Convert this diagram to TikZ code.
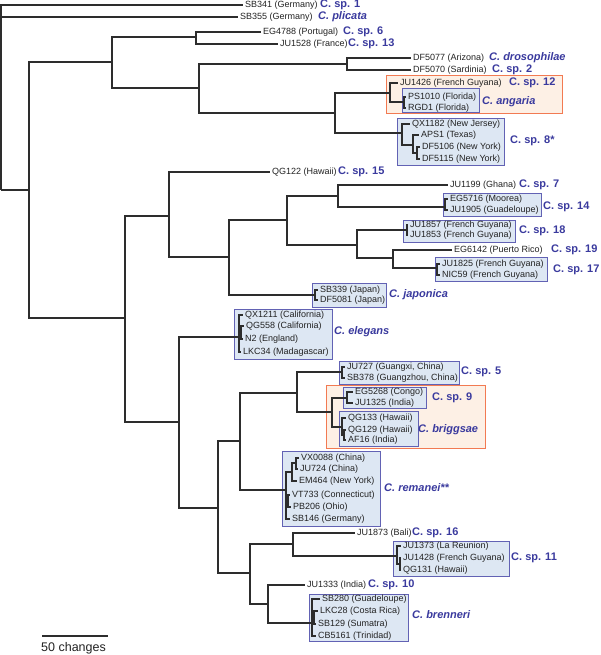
\documentclass[tikz,border=0pt]{standalone}
\usepackage{fontspec}
\setmainfont{Liberation Sans}
\usepackage{xcolor}
\usepackage{tikz}
\usetikzlibrary{positioning,fit}
\definecolor{branch}{RGB}{45,45,45}
\definecolor{tiptext}{RGB}{35,35,35}
\definecolor{spblue}{RGB}{58,58,158}
\definecolor{grpline}{RGB}{98,98,180}
\definecolor{grpfill}{RGB}{221,231,243}
\definecolor{sgline}{RGB}{242,122,82}
\definecolor{sgfill}{RGB}{253,240,229}

\begin{document}
\begin{tikzpicture}[x=1pt, y=-1pt,
  br/.style={draw=branch, line width=1.3pt},
  leaf/.style={anchor=west, inner sep=2pt, font=\fontsize{9}{10}\selectfont, text=tiptext},
  sp/.style={anchor=west, inner sep=0pt, font=\fontsize{11}{13}\selectfont\bfseries, text=spblue},
  spi/.style={sp, font=\fontsize{11}{13}\selectfont\bfseries\itshape},
  grp/.style={draw=grpline, fill=grpfill, line width=1pt, inner sep=0pt},
  sgrp/.style={draw=sgline, fill=sgfill, line width=1pt, inner sep=0pt},
  scl/.style={font=\fontsize{12.5}{14}\selectfont, text=tiptext, inner sep=0pt}]

\path[use as bounding box, fill=white] (0,0) rectangle (600,655);

\node[sgrp, fit={(386,76) (562,114)}] (angO) {};
\node[grp, fit={(402,89) (479,113)}] (angB) {};
\node[grp, fit={(397,119) (504,166)}] (sp8B) {};
\node[grp, fit={(443,193) (541,216)}] (sp14B) {};
\node[grp, fit={(403,220) (515,242)}] (sp18B) {};
\node[grp, fit={(435,257) (547,281)}] (sp17B) {};
\node[grp, fit={(312,283) (386,307)}] (japB) {};
\node[grp, fit={(234,309) (332,359)}] (elegB) {};
\node[grp, fit={(339,361) (459,384)}] (sp5B) {};
\node[sgrp, fit={(326,385) (485,448)}] (brigO) {};
\node[grp, fit={(343,387) (426,408)}] (sp9B) {};
\node[grp, fit={(339,411) (418,446)}] (brigB) {};
\node[grp, fit={(282,451) (380,526)}] (remB) {};
\node[grp, fit={(393,541) (509,576)}] (sp11B) {};
\node[grp, fit={(309,594) (408,641)}] (brenB) {};

\coordinate (r) at (1,190);
\coordinate (nA) at (29,190);
\coordinate (nA1) at (112,62);
\coordinate (nA1a) at (196,37);
\coordinate (nA1b) at (199,88);
\coordinate (ndro) at (347,64);
\coordinate (nA2) at (335,113);
\coordinate (nang) at (390,93);
\coordinate (nangc) at (404,102);
\coordinate (nsp8) at (402,133);
\coordinate (nsp8b) at (413,145);
\coordinate (nsp8c) at (417,153);
\coordinate (nB) at (125,318);
\coordinate (nB1) at (169,216);
\coordinate (nB2) at (229,257);
\coordinate (nB3) at (287,220);
\coordinate (nsp7) at (338,196);
\coordinate (nsp14) at (445,207);
\coordinate (nB4) at (357,245);
\coordinate (nsp18) at (407,230);
\coordinate (nB5) at (393,258);
\coordinate (nsp17) at (437,268);
\coordinate (njap) at (315,295);
\coordinate (nC) at (179,422);
\coordinate (neleg) at (239,337);
\coordinate (neleg2) at (241,332);
\coordinate (nD) at (218,508);
\coordinate (nD1) at (240,441);
\coordinate (nD2) at (297,393);
\coordinate (nsp5) at (342,372);
\coordinate (nbrig) at (332,412);
\coordinate (nsp9) at (347,398);
\coordinate (ncb) at (342,427);
\coordinate (ncb2) at (344,435);
\coordinate (nrem) at (286,490);
\coordinate (nrem1) at (292,472);
\coordinate (nrem2) at (296,463);
\coordinate (nrem3) at (288,501);
\coordinate (nE) at (250,573);
\coordinate (nE1) at (293,544);
\coordinate (nsp11) at (397,556);
\coordinate (nsp11b) at (400,564);
\coordinate (nE2) at (268,604);
\coordinate (nbren) at (312,623);
\coordinate (nbren2) at (314,618);

\node[leaf] (sb341) at (243,5) {SB341 (Germany)};
\node[leaf] (sb355) at (238,17) {SB355 (Germany)};
\node[leaf] (eg4788) at (261,32) {EG4788 (Portugal)};
\node[leaf] (ju1528) at (278,44) {JU1528 (France)};
\node[leaf] (df5077) at (411,58) {DF5077 (Arizona)};
\node[leaf] (df5070) at (411,70) {DF5070 (Sardinia)};
\node[leaf] (ju1426) at (398,83) {JU1426 (French Guyana)};
\node[leaf] (ps1010) at (406,97) {PS1010 (Florida)};
\node[leaf] (rgd1) at (406,108) {RGD1 (Florida)};
\node[leaf] (qx1182) at (410,124) {QX1182 (New Jersey)};
\node[leaf] (aps1) at (419,135) {APS1 (Texas)};
\node[leaf] (df5106) at (420,147) {DF5106 (New York)};
\node[leaf] (df5115) at (420,159) {DF5115 (New York)};
\node[leaf] (qg122) at (270,172) {QG122 (Hawaii)};
\node[leaf] (ju1199) at (448,185) {JU1199 (Ghana)};
\node[leaf] (eg5716) at (448,199) {EG5716 (Moorea)};
\node[leaf] (ju1905) at (448,210) {JU1905 (Guadeloupe)};
\node[leaf] (ju1857) at (408,225) {JU1857 (French Guyana)};
\node[leaf] (ju1853) at (408,235) {JU1853 (French Guyana)};
\node[leaf] (eg6142) at (452,250) {EG6142 (Puerto Rico)};
\node[leaf] (ju1825) at (440,264) {JU1825 (French Guyana)};
\node[leaf] (nic59) at (440,275) {NIC59 (French Guyana)};
\node[leaf] (sb339) at (318,290) {SB339 (Japan)};
\node[leaf] (df5081) at (318,300) {DF5081 (Japan)};
\node[leaf] (qx1211) at (243,315) {QX1211 (California)};
\node[leaf] (qg558) at (244,326) {QG558 (California)};
\node[leaf] (n2) at (243,339) {N2 (England)};
\node[leaf] (lkc34) at (241,352) {LKC34 (Madagascar)};
\node[leaf] (ju727) at (345,367) {JU727 (Guangxi, China)};
\node[leaf] (sb378) at (345,378) {SB378 (Guangzhou, China)};
\node[leaf] (eg5268) at (353,392) {EG5268 (Congo)};
\node[leaf] (ju1325) at (353,403) {JU1325 (India)};
\node[leaf] (qg133) at (346,418) {QG133 (Hawaii)};
\node[leaf] (qg129) at (346,430) {QG129 (Hawaii)};
\node[leaf] (af16) at (346,440) {AF16 (India)};
\node[leaf] (vx0088) at (299,458) {VX0088 (China)};
\node[leaf] (ju724) at (298,469) {JU724 (China)};
\node[leaf] (em464) at (297,481) {EM464 (New York)};
\node[leaf] (vt733) at (290,495) {VT733 (Connecticut)};
\node[leaf] (pb206) at (291,507) {PB206 (Ohio)};
\node[leaf] (sb146) at (290,519) {SB146 (Germany)};
\node[leaf] (ju1873) at (355,533) {JU1873 (Bali)};
\node[leaf] (ju1373) at (401,546) {JU1373 (La Reunion)};
\node[leaf] (ju1428) at (401,558) {JU1428 (French Guyana)};
\node[leaf] (qg131) at (401,570) {QG131 (Hawaii)};
\node[leaf] (ju1333) at (305,585) {JU1333 (India)};
\node[leaf] (sb280) at (320,599) {SB280 (Guadeloupe)};
\node[leaf] (lkc28) at (318,611) {LKC28 (Costa Rica)};
\node[leaf] (sb129) at (316,624) {SB129 (Sumatra)};
\node[leaf] (cb5161) at (316,636) {CB5161 (Trinidad)};

\draw[br] (r) |- (sb341.west) (r) |- (sb355.west) (r) -- (nA);
\draw[br] (nA) |- (nA1) (nA) |- (nB);
\draw[br] (nA1) |- (nA1a) (nA1) |- (nA1b);
\draw[br] (nA1a) |- (eg4788.west) (nA1a) |- (ju1528.west);
\draw[br] (nA1b) |- (ndro) (nA1b) |- (nA2);
\draw[br] (ndro) |- (df5077.west) (ndro) |- (df5070.west);
\draw[br] (nA2) |- (nang) (nA2) |- (nsp8);
\draw[br] (nang) |- (ju1426.west) (nang) |- (nangc);
\draw[br] (nangc) |- (ps1010.west) (nangc) |- (rgd1.west);
\draw[br] (nsp8) |- (qx1182.west) (nsp8) |- (nsp8b);
\draw[br] (nsp8b) |- (aps1.west) (nsp8b) |- (nsp8c);
\draw[br] (nsp8c) |- (df5106.west) (nsp8c) |- (df5115.west);
\draw[br] (nB) |- (nB1) (nB) |- (nC);
\draw[br] (nB1) |- (qg122.west) (nB1) |- (nB2);
\draw[br] (nB2) |- (nB3) (nB2) |- (njap);
\draw[br] (nB3) |- (nsp7) (nB3) |- (nB4);
\draw[br] (nsp7) |- (ju1199.west) (nsp7) |- (nsp14);
\draw[br] (nsp14) |- (eg5716.west) (nsp14) |- (ju1905.west);
\draw[br] (nB4) |- (nsp18) (nB4) |- (nB5);
\draw[br] (nsp18) |- (ju1857.west) (nsp18) |- (ju1853.west);
\draw[br] (nB5) |- (eg6142.west) (nB5) |- (nsp17);
\draw[br] (nsp17) |- (ju1825.west) (nsp17) |- (nic59.west);
\draw[br] (njap) |- (sb339.west) (njap) |- (df5081.west);
\draw[br] (nC) |- (neleg) (nC) |- (nD);
\draw[br] (neleg) |- (qx1211.west) (neleg) |- (neleg2) (neleg) |- (lkc34.west);
\draw[br] (neleg2) |- (qg558.west) (neleg2) |- (n2.west);
\draw[br] (nD) |- (nD1) (nD) |- (nE);
\draw[br] (nD1) |- (nD2) (nD1) |- (nrem);
\draw[br] (nD2) |- (nsp5) (nD2) |- (nbrig);
\draw[br] (nsp5) |- (ju727.west) (nsp5) |- (sb378.west);
\draw[br] (nbrig) |- (nsp9) (nbrig) |- (ncb);
\draw[br] (nsp9) |- (eg5268.west) (nsp9) |- (ju1325.west);
\draw[br] (ncb) |- (qg133.west) (ncb) |- (ncb2);
\draw[br] (ncb2) |- (qg129.west) (ncb2) |- (af16.west);
\draw[br] (nrem) |- (nrem1) (nrem) |- (nrem3) (nrem) |- (sb146.west);
\draw[br] (nrem1) |- (nrem2) (nrem1) |- (em464.west);
\draw[br] (nrem2) |- (vx0088.west) (nrem2) |- (ju724.west);
\draw[br] (nrem3) |- (vt733.west) (nrem3) |- (pb206.west);
\draw[br] (nE) |- (nE1) (nE) |- (nE2);
\draw[br] (nE1) |- (ju1873.west) (nE1) |- (nsp11);
\draw[br] (nsp11) |- (ju1373.west) (nsp11) |- (nsp11b);
\draw[br] (nsp11b) |- (ju1428.west) (nsp11b) |- (qg131.west);
\draw[br] (nE2) |- (ju1333.west) (nE2) |- (nbren);
\draw[br] (nbren) |- (sb280.west) (nbren) |- (nbren2) (nbren) |- (cb5161.west);
\draw[br] (nbren2) |- (lkc28.west) (nbren2) |- (sb129.west);

\node[sp] (l1) at (320,5) {C. sp. 1};
\node[spi] (lpli) at (318,17) {C. plicata};
\node[sp] (l6) at (343,32) {C. sp. 6};
\node[sp] (l13) at (348,44) {C. sp. 13};
\node[spi] (ldro) at (489,58) {C. drosophilae};
\node[sp] (l2) at (492,70) {C. sp. 2};
\node[sp] (l12) at (509,83) {C. sp. 12};
\node[spi] (lang) at (482,102) {C. angaria};
\node[sp] (l8) at (510,141) {C. sp. 8*};
\node[sp] (l15) at (338,172) {C. sp. 15};
\node[sp] (l7) at (519,185) {C. sp. 7};
\node[sp] (l14) at (543,207) {C. sp. 14};
\node[sp] (l18) at (519,231) {C. sp. 18};
\node[sp] (l19) at (551,250) {C. sp. 19};
\node[sp] (l17) at (553,270) {C. sp. 17};
\node[spi] (ljap) at (389,295) {C. japonica};
\node[spi] (leleg) at (334,332) {C. elegans};
\node[sp] (l5) at (461,372) {C. sp. 5};
\node[sp] (l9) at (432,398) {C. sp. 9};
\node[spi] (lbrig) at (418,430) {C. briggsae};
\node[spi] (lrem) at (384,488) {C. remanei**};
\node[sp] (l16) at (412,533) {C. sp. 16};
\node[sp] (l11) at (511,558) {C. sp. 11};
\node[sp] (l10) at (368,585) {C. sp. 10};
\node[spi] (lbren) at (412,615) {C. brenneri};

\coordinate (bar0) at (42,636);
\coordinate (bar1) at (108,636);
\draw[br] (bar0) -- (bar1);
\node[scl, below right=6pt and -1pt of bar0] (barlbl) {50 changes};
\end{tikzpicture}
\end{document}
